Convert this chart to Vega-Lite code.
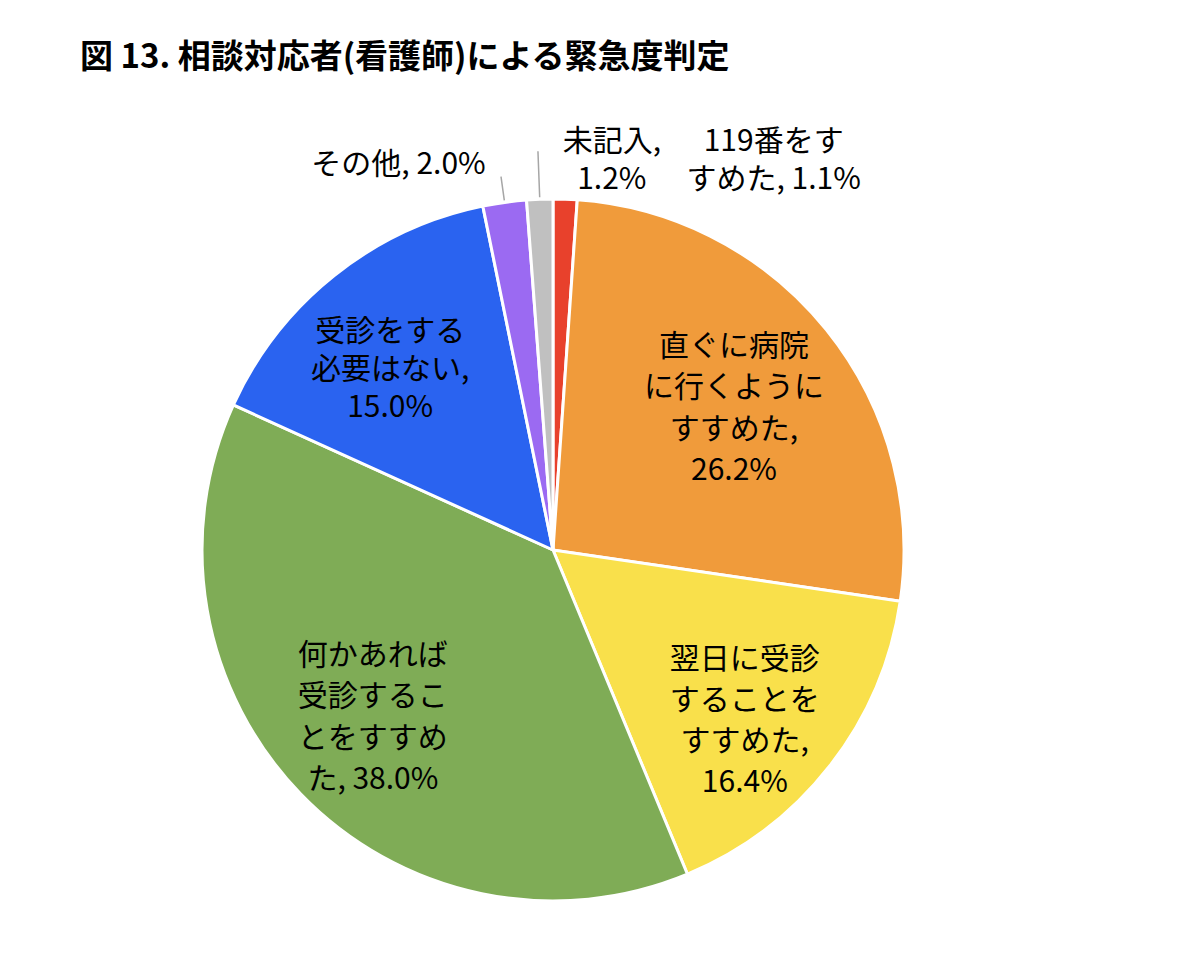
{
  "$schema": "https://vega.github.io/schema/vega-lite/v6.json",
  "width": 1106,
  "height": 848,
  "autosize": {"type": "none"},
  "padding": {"left": 0, "top": 126, "right": 94, "bottom": 0},
  "background": "white",
  "title": {
    "text": "図 13. 相談対応者(看護師)による緊急度判定",
    "anchor": "start",
    "frame": "group",
    "dx": 80,
    "offset": 6,
    "fontSize": 33,
    "font": "Noto Sans CJK JP",
    "fontWeight": "bold",
    "color": "#000000"
  },
  "data": {
    "values": [
      {"category": "119番をすすめた", "value": 1.1, "order": 1, "label": "119番をす\nすめた, 1.1%"},
      {"category": "直ぐに病院に行くようにすすめた", "value": 26.2, "order": 2, "label": "直ぐに病院\nに行くように\nすすめた,\n26.2%"},
      {"category": "翌日に受診することをすすめた", "value": 16.4, "order": 3, "label": "翌日に受診\nすることを\nすすめた,\n16.4%"},
      {"category": "何かあれば受診することをすすめた", "value": 38.0, "order": 4, "label": "何かあれば\n受診するこ\nとをすすめ\nた, 38.0%"},
      {"category": "受診をする必要はない", "value": 15.0, "order": 5, "label": "受診をする\n必要はない,\n15.0%"},
      {"category": "その他", "value": 2.0, "order": 6, "label": "その他, 2.0%"},
      {"category": "未記入", "value": 1.2, "order": 7, "label": "未記入,\n1.2%"}
    ]
  },
  "encoding": {
    "theta": {"field": "value", "type": "quantitative", "stack": true},
    "order": {"field": "order", "type": "quantitative"},
    "detail": {"field": "category", "type": "nominal"}
  },
  "layer": [
    {
      "mark": {"type": "arc", "radius": 351, "stroke": "white", "strokeWidth": 3},
      "encoding": {
        "color": {
          "field": "category",
          "type": "nominal",
          "legend": null,
          "scale": {
            "domain": ["119番をすすめた", "直ぐに病院に行くようにすすめた", "翌日に受診することをすすめた", "何かあれば受診することをすすめた", "受診をする必要はない", "その他", "未記入"],
            "range": ["#E8412C", "#F09B3B", "#F9E04B", "#7FAC56", "#2A63F0", "#9B6AF2", "#C0C0C0"]
          }
        }
      }
    },
    {
      "mark": {"type": "arc", "radius": 377, "radius2": 353, "padAngle": 1.2, "fillOpacity": 0, "strokeWidth": 1.5},
      "encoding": {
        "stroke": {"condition": {"test": "datum.category === 'その他'", "value": "#A6A6A6"}, "value": null}
      }
    },
    {
      "mark": {"type": "arc", "radius": 399, "radius2": 353, "padAngle": 1.2, "fillOpacity": 0, "strokeWidth": 1.5},
      "encoding": {
        "stroke": {"condition": {"test": "datum.category === '未記入'", "value": "#A6A6A6"}, "value": null}
      }
    },
    {
      "mark": {"type": "text", "radius": 272, "thetaOffset": -0.165, "fontSize": 30, "font": "Noto Sans CJK JP", "lineBreak": "\n", "lineHeight": 41.5, "align": "center", "baseline": "middle", "color": "#000000"},
      "encoding": {"text": {"condition": {"test": "datum.category === '直ぐに病院に行くようにすすめた'", "field": "label", "type": "nominal"}, "value": ""}}
    },
    {
      "mark": {"type": "text", "radius": 221, "thetaOffset": -0.142, "fontSize": 30, "font": "Noto Sans CJK JP", "lineBreak": "\n", "lineHeight": 41, "align": "center", "baseline": "middle", "color": "#000000"},
      "encoding": {"text": {"condition": {"test": "datum.category === '翌日に受診することをすすめた'", "field": "label", "type": "nominal"}, "value": ""}}
    },
    {
      "mark": {"type": "text", "radius": 209, "thetaOffset": 0.237, "fontSize": 30, "font": "Noto Sans CJK JP", "lineBreak": "\n", "lineHeight": 41.3, "align": "center", "baseline": "middle", "color": "#000000"},
      "encoding": {"text": {"condition": {"test": "datum.category === '何かあれば受診することをすすめた'", "field": "label", "type": "nominal"}, "value": ""}}
    },
    {
      "mark": {"type": "text", "radius": 272, "thetaOffset": 0.031, "fontSize": 30, "font": "Noto Sans CJK JP", "lineBreak": "\n", "lineHeight": 38, "align": "center", "baseline": "middle", "color": "#000000"},
      "encoding": {"text": {"condition": {"test": "datum.category === '受診をする必要はない'", "field": "label", "type": "nominal"}, "value": ""}}
    },
    {
      "mark": {"type": "text", "radius": 415, "thetaOffset": -0.243, "fontSize": 30, "font": "Noto Sans CJK JP", "lineBreak": "\n", "lineHeight": 38, "align": "center", "baseline": "middle", "color": "#000000"},
      "encoding": {"text": {"condition": {"test": "datum.category === 'その他'", "field": "label", "type": "nominal"}, "value": ""}}
    },
    {
      "mark": {"type": "text", "radius": 412, "thetaOffset": 0.181, "fontSize": 30, "font": "Noto Sans CJK JP", "lineBreak": "\n", "lineHeight": 38, "align": "center", "baseline": "middle", "color": "#000000"},
      "encoding": {"text": {"condition": {"test": "datum.category === '未記入'", "field": "label", "type": "nominal"}, "value": ""}}
    },
    {
      "mark": {"type": "text", "radius": 464, "thetaOffset": 0.461, "fontSize": 30, "font": "Noto Sans CJK JP", "lineBreak": "\n", "lineHeight": 38, "align": "center", "baseline": "middle", "color": "#000000"},
      "encoding": {"text": {"condition": {"test": "datum.category === '119番をすすめた'", "field": "label", "type": "nominal"}, "value": ""}}
    }
  ],
  "config": {"view": {"stroke": null}}
}
